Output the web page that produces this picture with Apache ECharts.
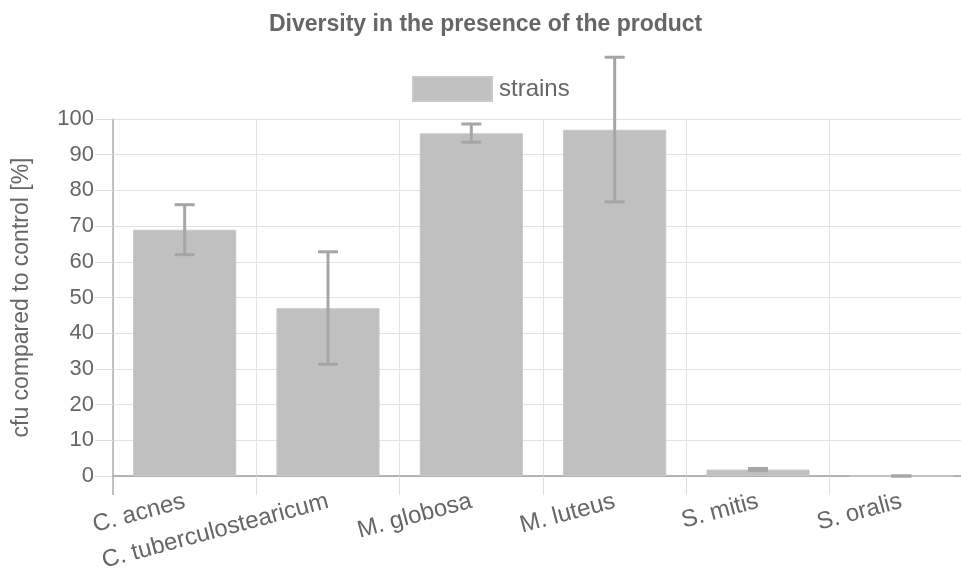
<!DOCTYPE html>
<html>
<head>
<meta charset="utf-8">
<script src="https://cdn.jsdelivr.net/npm/echarts@6/dist/echarts.min.js"></script>
<style>
  html, body { margin: 0; padding: 0; background: #fff; }
  #chart { width: 961px; height: 572px; }
</style>
</head>
<body>
<div id="chart"></div>
<script>
// Strains tested and their colony counts relative to the untreated control
var strains = ['C. acnes', 'C. tuberculostearicum', 'M. globosa', 'M. luteus', 'S. mitis', 'S. oralis'];
var cfuPercent = [69, 47, 96, 97, 1.8, 0];
var errorLow = [62, 31.3, 93.5, 76.8, 1.5, 0];
var errorHigh = [76, 62.8, 98.6, 117.3, 2.1, 0];
var yTicks = [0, 10, 20, 30, 40, 50, 60, 70, 80, 90, 100];

var textColor = '#666666';
var fontFamily = '"Liberation Sans", Arial, sans-serif';

var chart = echarts.init(document.getElementById('chart'), null, { renderer: 'canvas' });

var errorData = strains.map(function (s, i) { return [i, errorLow[i], errorHigh[i]]; });

chart.setOption({
  animation: false,
  backgroundColor: '#ffffff',
  textStyle: { fontFamily: fontFamily },
  title: {
    text: 'Diversity in the presence of the product',
    left: 264,
    top: 8,
    textStyle: { color: textColor, fontSize: 23, fontWeight: 'bold', fontFamily: fontFamily }
  },
  legend: {
    data: ['strains'],
    left: 407,
    top: 71,
    itemWidth: 79,
    itemHeight: 24,
    itemGap: 10,
    icon: 'rect',
    textStyle: { color: textColor, fontSize: 24, fontFamily: fontFamily, padding: [0, 0, 0, 2] }
  },
  // the plot runs slightly past the right edge of the canvas
  grid: { left: 113, width: 860, top: 119, bottom: 96, outerBoundsMode: 'none', containLabel: false },
  xAxis: [
    {
      type: 'category',
      data: strains,
      position: 'bottom',
      axisLine: { lineStyle: { color: '#a0a0a0', width: 1.5 } },
      axisTick: { show: true, length: 19, alignWithLabel: false, lineStyle: { color: '#dedede' } },
      splitLine: { show: true, lineStyle: { color: '#e2e2e2' } },
      axisLabel: { rotate: 15, margin: 25, color: textColor, fontSize: 24, fontFamily: fontFamily, interval: 0 }
    },
    {
      // darker first tick continuing the value axis line below the baseline
      type: 'category',
      data: strains,
      position: 'bottom',
      offset: 0,
      axisLine: { show: false },
      axisTick: {
        show: true, length: 19,
        interval: function (index) { return index === 0; },
        lineStyle: { color: '#b0b0b0', width: 1.5 }
      },
      splitLine: { show: false },
      axisLabel: { show: false }
    }
  ],
  yAxis: {
    type: 'value',
    min: yTicks[0],
    max: yTicks[yTicks.length - 1],
    interval: 10,
    name: 'cfu compared to control [%]',
    nameLocation: 'middle',
    nameGap: 80,
    nameTextStyle: { color: textColor, fontSize: 23, fontFamily: fontFamily },
    axisLine: { show: true, lineStyle: { color: '#b0b0b0', width: 1.5 } },
    axisTick: { show: true, length: 18, lineStyle: { color: '#dedede' } },
    splitLine: { show: true, lineStyle: { color: '#e2e2e2' } },
    axisLabel: { color: textColor, fontSize: 22, margin: 19, fontFamily: fontFamily }
  },
  series: [
    {
      name: 'strains',
      type: 'bar',
      data: cfuPercent,
      barCategoryGap: '28%',
      itemStyle: { color: '#c0c0c0', borderColor: '#c9c9c9', borderWidth: 1 },
      z: 2
    },
    {
      name: 'error',
      type: 'custom',
      data: errorData,
      clip: false,
      z: 3,
      renderItem: function (params, api) {
        var x = api.value(0);
        var lo = api.coord([x, api.value(1)]);
        var hi = api.coord([x, api.value(2)]);
        var half = 10;
        var style = { stroke: '#a6a6a6', lineWidth: 3 };
        return {
          type: 'group',
          children: [
            { type: 'line', shape: { x1: lo[0], y1: lo[1], x2: hi[0], y2: hi[1] }, style: style },
            { type: 'line', shape: { x1: lo[0] - half, y1: lo[1], x2: lo[0] + half, y2: lo[1] }, style: style },
            { type: 'line', shape: { x1: hi[0] - half, y1: hi[1], x2: hi[0] + half, y2: hi[1] }, style: style }
          ]
        };
      }
    }
  ]
});
</script>
</body>
</html>
